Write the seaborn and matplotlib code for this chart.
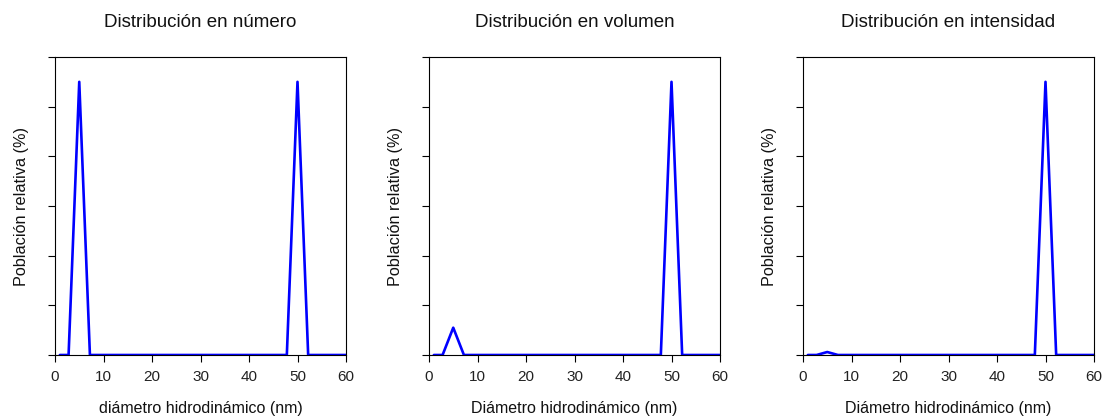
import matplotlib
matplotlib.use("Agg")
import matplotlib.pyplot as plt
import seaborn as sns
import pandas as pd

sns.set_theme(style="white")
plt.rcParams['font.family'] = ['Liberation Sans', 'DejaVu Sans']

diametro = [1, 2.8, 5, 7.2, 47.8, 50, 52.2, 60]
numero = [0, 0, 55, 0, 0, 55, 0, 0]
volumen = [0, 0, 5.5, 0, 0, 55, 0, 0]
intensidad = [0, 0, 0.6, 0, 0, 55, 0, 0]

titulos = ["Distribución en número", "Distribución en volumen", "Distribución en intensidad"]
xlabels = ["diámetro hidrodinámico (nm)", "Diámetro hidrodinámico (nm)", "Diámetro hidrodinámico (nm)"]
ylabel = "Población relativa (%)"
xticks = [0, 10, 20, 30, 40, 50, 60]
yticks = [0, 10, 20, 30, 40, 50, 60]

fig = plt.figure(figsize=(11.04, 4.16), dpi=100)
lefts = [55/1104, 429/1104, 803/1104]
series = [numero, volumen, intensidad]
for i in range(3):
    ax = fig.add_axes([lefts[i], 1 - 355/416, 291/1104, 298/416])
    df = pd.DataFrame({"x": diametro, "y": series[i]})
    sns.lineplot(data=df, x="x", y="y", ax=ax, color="#0000FF", linewidth=1.9)
    ax.set_xlim(0, 60)
    ax.set_ylim(0, 60)
    ax.set_xticks(xticks)
    ax.set_yticks(yticks)
    ax.set_yticklabels([])
    ax.tick_params(axis="both", direction="out", length=5, width=0.8, color="black",
                   labelsize=11, pad=6, left=True, bottom=True, labelcolor="#222222")
    for s in ax.spines.values():
        s.set_color("black")
        s.set_linewidth(0.8)
    ax.set_title(titulos[i], fontsize=13.5, pad=21.5, color="#111111")
    ax.set_xlabel(xlabels[i], fontsize=11.5, labelpad=12, color="#111111")
    ax.set_ylabel(ylabel, fontsize=11.7, labelpad=7.5, color="#111111")
    ax.grid(False)

fig.savefig("out.png", dpi=100)
